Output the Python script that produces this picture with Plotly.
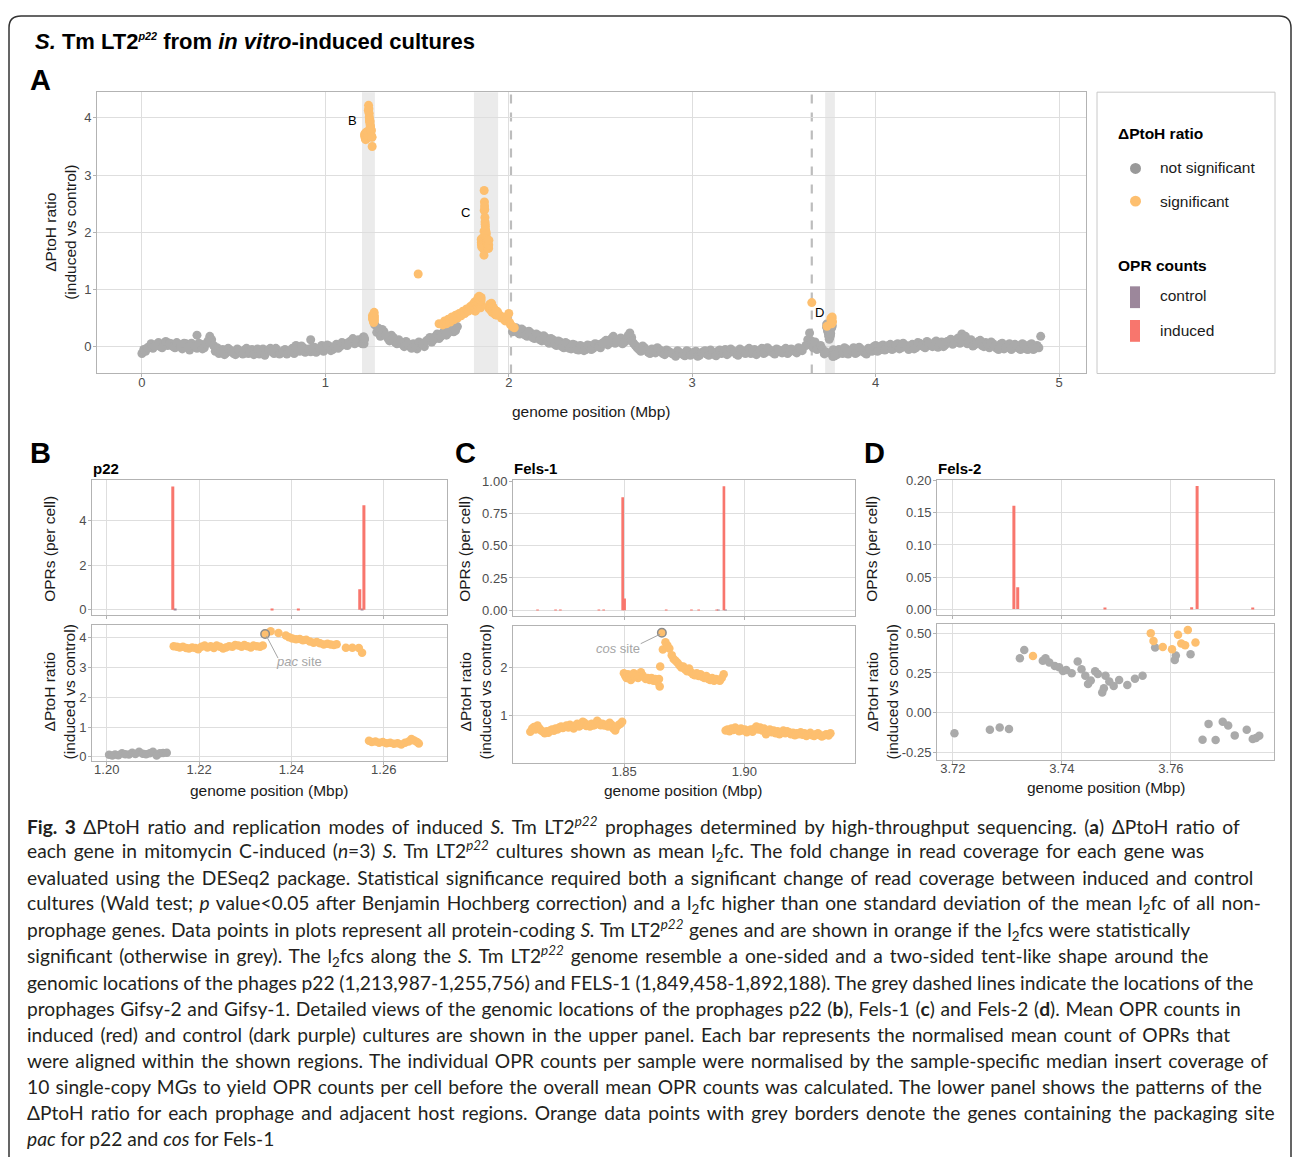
import plotly.graph_objects as go

W, H = 1293, 1161
def fx(p): return p / W
def fy(p): return 1 - p / H

GREY = '#aaaaaa'
ORANGE = '#fdbf6f'
INDUCED = '#f8766d'
CONTROL = '#9c879b'
FONT = 'Liberation Sans, Arial, sans-serif'
CAPFONT = 'Lato, sans-serif'

# ---------------- Panel A data (genome-wide, Mbp) ----------------
A_grey1_x = [0.00,0.01,0.02,0.04,0.06,0.08,0.10,0.12,0.14,0.16,0.18,0.20,0.22,0.24,0.26,0.28,0.30,0.30,0.32,0.34,0.36,0.37,0.38,0.40,0.42,0.44,0.46,0.48,0.50,0.52,0.54,0.56,0.58,0.60,0.62,0.64,0.66,0.68,0.70,0.72,0.74,0.76,0.78,0.80,0.82,0.84,0.86,0.88,0.90,0.92,0.92,0.94,0.96,0.98,1.00,1.02,1.04,1.06,1.08,1.10,1.12,1.14,1.16,1.18,1.19]
A_grey1_y = [-0.12,-0.05,-0.08,0.00,-0.03,0.04,0.00,0.06,0.02,0.05,-0.02,0.04,-0.04,0.05,-0.06,0.02,0.20,-0.03,0.04,-0.02,0.10,0.18,0.12,-0.08,-0.12,-0.05,-0.11,-0.06,-0.12,-0.04,-0.10,-0.06,-0.12,-0.05,-0.08,-0.13,-0.04,-0.09,-0.03,-0.12,-0.07,-0.11,-0.05,-0.10,-0.03,0.02,-0.08,-0.02,-0.06,0.12,-0.09,-0.01,-0.07,0.02,-0.04,0.01,-0.05,0.04,0.00,0.06,0.02,0.10,0.05,0.12,0.08]
A_grey1b_x = [0.03,0.05,0.07,0.09,0.11,0.13,0.15,0.17,0.19,0.21,0.23,0.25,0.27,0.29,0.31,0.33,0.35,0.37,0.39,0.41,0.43,0.45,0.47,0.49,0.51,0.53,0.55,0.57,0.59,0.61,0.63,0.65,0.67,0.69,0.71,0.73,0.75,0.77,0.79,0.81,0.83,0.85,0.87,0.89,0.91,0.93,0.95,0.97,0.99,1.01,1.03,1.05,1.07,1.09,1.11,1.13,1.15,1.17]
A_grey1b_y = [-0.02,0.05,0.01,0.07,-0.02,0.09,0.06,0.00,0.07,0.00,0.06,-0.01,0.06,0.00,0.06,-0.04,0.05,0.08,0.02,-0.02,-0.09,-0.14,-0.03,-0.09,-0.14,-0.07,-0.13,-0.03,-0.09,-0.14,-0.04,-0.10,-0.15,-0.06,-0.09,-0.03,-0.13,-0.08,-0.13,-0.07,-0.12,-0.05,0.01,-0.10,-0.04,-0.02,-0.10,-0.03,-0.08,0.03,-0.07,0.00,-0.03,0.07,0.03,0.08,0.14,0.07]
A_grey2_x = [1.27,1.28,1.29,1.30,1.32,1.34,1.36,1.38,1.40,1.42,1.44,1.46,1.48,1.50,1.52,1.54,1.56,1.58,1.60,1.62,1.64,1.66,1.68,1.70,1.72]
A_grey2_y = [0.38,0.25,0.32,0.18,0.26,0.15,0.20,0.08,0.12,0.04,0.09,0.00,0.05,-0.04,0.06,0.00,0.12,0.08,0.18,0.14,0.24,0.20,0.30,0.26,0.35]
A_grey2b_x = [1.31,1.33,1.35,1.37,1.39,1.41,1.43,1.45,1.47,1.49,1.51,1.53,1.55,1.57,1.59,1.61,1.63,1.65,1.67,1.69,1.71]
A_grey2b_y = [0.30,0.20,0.10,0.16,0.05,0.08,0.00,0.05,-0.03,0.02,0.08,0.04,0.10,0.16,0.12,0.22,0.18,0.28,0.24,0.32,0.28]
A_grey3_x = [2.02,2.04,2.06,2.08,2.10,2.12,2.14,2.16,2.18,2.20,2.22,2.24,2.26,2.28,2.30,2.32,2.34,2.36,2.38,2.40,2.42,2.44,2.46,2.48,2.50,2.52,2.54,2.56,2.58,2.60,2.62,2.64,2.66,2.67,2.68,2.70,2.72,2.74,2.76,2.78,2.80,2.82,2.84,2.86,2.88,2.90,2.92,2.94,2.96,2.98,3.00,3.02,3.04,3.06,3.08,3.10,3.12,3.14,3.16,3.18,3.20,3.22,3.24,3.26,3.28,3.30,3.32,3.34,3.36,3.38,3.40,3.42,3.44,3.46,3.48,3.50,3.52,3.54,3.56,3.58,3.60,3.62,3.63,3.64,3.65,3.66,3.67,3.68,3.70,3.71]
A_grey3_y = [0.26,0.33,0.22,0.28,0.18,0.24,0.14,0.20,0.10,0.16,0.06,0.12,0.02,0.08,-0.02,0.05,-0.04,0.03,-0.06,0.00,-0.05,0.02,-0.03,0.04,-0.02,0.08,0.03,0.14,0.06,0.12,0.05,0.10,0.24,0.16,0.06,-0.02,-0.08,-0.02,-0.10,-0.04,-0.11,-0.05,-0.12,-0.06,-0.10,-0.14,-0.07,-0.12,-0.16,-0.09,-0.13,-0.08,-0.15,-0.09,-0.13,-0.06,-0.14,-0.08,-0.12,-0.05,-0.11,-0.07,-0.13,-0.04,-0.10,-0.06,-0.12,-0.05,-0.09,-0.03,-0.10,-0.05,-0.11,-0.04,-0.09,-0.06,-0.12,-0.04,-0.08,-0.02,-0.07,0.02,0.12,0.24,0.10,-0.02,0.08,-0.05,0.02,-0.04]
A_grey3b_x = [2.03,2.05,2.07,2.09,2.11,2.13,2.15,2.17,2.19,2.21,2.23,2.25,2.27,2.29,2.31,2.33,2.35,2.37,2.39,2.41,2.43,2.45,2.47,2.49,2.51,2.53,2.55,2.57,2.59,2.61,2.63,2.65,2.67,2.69,2.71,2.73,2.75,2.77,2.79,2.81,2.83,2.85,2.87,2.89,2.91,2.93,2.95,2.97,2.99,3.01,3.03,3.05,3.07,3.09,3.11,3.13,3.15,3.17,3.19,3.21,3.23,3.25,3.27,3.29,3.31,3.33,3.35,3.37,3.39,3.41,3.43,3.45,3.47,3.49,3.51,3.53,3.55,3.57,3.59]
A_grey3b_y = [0.30,0.24,0.31,0.20,0.27,0.16,0.22,0.12,0.19,0.09,0.14,0.04,0.10,0.00,0.07,-0.03,0.04,-0.05,0.02,-0.07,0.03,-0.05,0.05,0.00,0.06,0.11,0.08,0.18,0.09,0.15,0.08,0.19,0.10,0.02,-0.05,0.01,-0.06,-0.12,-0.07,-0.02,-0.08,-0.14,-0.08,-0.12,-0.17,-0.10,-0.14,-0.07,-0.15,-0.10,-0.17,-0.11,-0.07,-0.15,-0.10,-0.16,-0.06,-0.10,-0.14,-0.04,-0.09,-0.15,-0.07,-0.12,-0.03,-0.09,-0.14,-0.07,-0.12,-0.02,-0.08,-0.13,-0.06,-0.11,-0.03,-0.09,-0.06,-0.11,-0.04]
A_grey4_x = [3.78,3.79,3.80,3.82,3.84,3.86,3.88,3.90,3.92,3.94,3.96,3.98,4.00,4.02,4.04,4.06,4.08,4.10,4.12,4.14,4.16,4.18,4.20,4.22,4.24,4.26,4.28,4.30,4.32,4.34,4.36,4.38,4.40,4.42,4.44,4.46,4.47,4.48,4.50,4.52,4.54,4.56,4.58,4.60,4.62,4.64,4.66,4.68,4.70,4.72,4.74,4.76,4.78,4.80,4.82,4.84,4.86,4.88,4.90,4.89]
A_grey4_y = [-0.10,-0.14,-0.05,-0.12,-0.04,-0.09,-0.02,-0.10,-0.04,-0.11,-0.03,-0.08,0.02,-0.06,0.03,-0.04,0.04,-0.03,0.05,-0.02,0.03,-0.05,0.04,-0.02,0.06,0.00,0.09,0.02,0.07,-0.01,0.08,0.03,0.10,0.04,0.12,0.06,0.22,0.14,0.05,0.12,0.03,0.09,0.02,0.07,-0.02,0.05,-0.03,0.04,-0.04,0.03,-0.05,0.04,-0.03,0.05,-0.04,0.03,-0.05,0.02,0.18,-0.02]
A_grey4b_x = [3.81,3.83,3.85,3.87,3.89,3.91,3.93,3.95,3.97,3.99,4.01,4.03,4.05,4.07,4.09,4.11,4.13,4.15,4.17,4.19,4.21,4.23,4.25,4.27,4.29,4.31,4.33,4.35,4.37,4.39,4.41,4.43,4.45,4.47,4.49,4.51,4.53,4.55,4.57,4.59,4.61,4.63,4.65,4.67,4.69,4.71,4.73,4.75,4.77,4.79,4.81,4.83,4.85,4.87]
A_grey4b_y = [-0.08,-0.02,-0.13,-0.06,-0.12,-0.01,-0.08,-0.13,-0.05,0.00,-0.08,0.01,-0.06,0.02,-0.05,0.03,-0.04,0.06,-0.01,0.02,-0.04,0.07,0.02,-0.02,0.05,0.00,0.10,0.04,0.00,0.09,0.13,0.07,0.15,0.10,0.18,0.08,0.01,0.06,0.11,0.00,0.05,0.08,0.01,-0.05,0.06,-0.02,0.05,-0.02,0.02,-0.05,0.03,-0.05,0.05,-0.03]
A_orange_x = [1.506,1.620,1.640,1.650,1.660,1.670,1.680,1.690,1.700,1.710,1.720,1.730,1.740,1.750,1.760,1.770,1.780,1.790,1.800,1.805,1.940,1.950,1.960,1.970,1.980,1.990,2.000,2.005,2.010,2.020,2.030,3.652]
A_orange_y = [1.27,0.40,0.38,0.45,0.40,0.48,0.43,0.52,0.47,0.55,0.50,0.58,0.54,0.62,0.58,0.66,0.62,0.70,0.66,0.74,0.60,0.55,0.50,0.52,0.45,0.48,0.58,0.42,0.38,0.35,0.33,0.77]
A_prophage_regions = [(1.200, 1.270), (1.810, 1.942), (3.725, 3.778)]
A_dashed = [2.012, 3.652]

# ---------------- Panel B (p22) ----------------
B_grey_x = [1.2005,1.2012,1.2018,1.2025,1.2033,1.2040,1.2048,1.2055,1.2062,1.2070,1.2078,1.2085,1.2093,1.2100,1.2108,1.2115,1.2122,1.2130]
B_grey_y = [0.07,0.05,0.08,0.06,0.12,0.09,0.08,0.14,0.10,0.17,0.11,0.09,0.12,0.17,0.05,0.12,0.13,0.14]
B_orange_x = [1.2145,1.2152,1.2158,1.2165,1.2172,1.2178,1.2185,1.2192,1.2198,1.2205,1.2212,1.2218,1.2225,1.2232,1.2238,1.2245,1.2252,1.2258,1.2265,1.2272,1.2278,1.2285,1.2292,1.2298,1.2305,1.2312,1.2318,1.2325,1.2332,1.2338,
              1.2355,1.2372,1.2388,1.2395,1.2402,1.2410,1.2418,1.2425,1.2432,1.2440,1.2448,1.2455,1.2462,1.2470,1.2478,1.2485,1.2492,1.2498,1.2518,1.2532,1.2546,1.2553,
              1.2568,1.2574,1.2582,1.2590,1.2598,1.2606,1.2614,1.2622,1.2630,1.2638,1.2646,1.2654,1.2660,1.2666,1.2672,1.2676]
B_orange_y = [3.72,3.70,3.68,3.70,3.66,3.64,3.68,3.66,3.62,3.70,3.74,3.68,3.72,3.66,3.74,3.70,3.64,3.68,3.72,3.70,3.76,3.74,3.70,3.76,3.72,3.68,3.74,3.72,3.70,3.74,
              4.22,4.16,4.08,4.02,3.98,3.95,3.96,3.92,3.94,3.88,3.84,3.86,3.82,3.78,3.80,3.78,3.76,3.79,3.67,3.67,3.66,3.50,
              0.54,0.50,0.52,0.48,0.50,0.46,0.48,0.44,0.46,0.42,0.48,0.52,0.60,0.55,0.50,0.45]
B_pac_x = [1.2343]
B_pac_y = [4.13]
B_induced_x = [1.2143, 1.2358, 1.2415, 1.2548, 1.2557]
B_induced_y = [5.55, 0.03, 0.03, 0.92, 4.70]
B_control_x = [1.2148, 1.2553]
B_control_y = [0.05, 0.04]

# ---------------- Panel C (Fels-1) ----------------
C_orange_x = [1.8110,1.8118,1.8125,1.8132,1.8140,1.8148,1.8155,1.8163,1.8170,1.8178,1.8185,1.8193,1.8200,1.8208,1.8215,1.8223,1.8230,1.8238,1.8245,1.8253,1.8260,1.8268,1.8275,1.8283,1.8290,1.8298,1.8305,1.8313,1.8320,1.8328,1.8335,1.8343,1.8350,1.8358,1.8365,1.8373,1.8380,1.8388,1.8395,1.8403,1.8410,1.8418,1.8425,1.8433,1.8440,1.8448,1.8455,1.8463,1.8470,1.8478,1.8485,1.8492,
              1.8499,1.8505,1.8510,1.8516,1.8522,1.8528,1.8534,1.8540,1.8546,1.8552,1.8558,1.8564,1.8570,1.8576,1.8582,1.8590,1.8598,1.8606,1.8614,1.8622,1.8630,1.8638,1.8645,1.8648,1.8650,
              1.8661,1.8672,1.8680,1.8688,1.8698,1.8706,1.8714,1.8722,1.8730,1.8738,1.8746,1.8754,1.8762,1.8770,1.8778,1.8786,1.8794,1.8802,1.8810,1.8818,1.8826,1.8834,1.8842,1.8850,1.8858,1.8866,1.8874,1.8882,1.8890,1.8898,1.8906,1.8914,
              1.8922,1.8930,1.8938,1.8946,1.8954,1.8962,1.8970,1.8978,1.8986,1.8994,1.9002,1.9010,1.9018,1.9026,1.9034,1.9042,1.9050,1.9058,1.9066,1.9074,1.9082,1.9090,1.9098,1.9106,1.9114,1.9122,1.9130,1.9138,1.9146,1.9154,1.9162,1.9170,1.9178,1.9186,1.9194,1.9202,1.9210,1.9218,1.9226,1.9234,1.9242,1.9250,1.9258,1.9266,1.9274,1.9282,1.9290,1.9298,1.9306,1.9314,1.9322,1.9330,1.9340,1.9350,1.9358]
C_orange_y = [0.65,0.72,0.75,0.70,0.78,0.72,0.68,0.65,0.62,0.66,0.63,0.68,0.70,0.67,0.72,0.70,0.74,0.76,0.73,0.75,0.78,0.74,0.80,0.76,0.72,0.78,0.82,0.76,0.79,0.86,0.84,0.77,0.80,0.76,0.82,0.78,0.80,0.88,0.84,0.79,0.82,0.78,0.80,0.76,0.84,0.80,0.72,0.68,0.76,0.80,0.82,0.86,
              1.88,1.82,1.78,1.86,1.80,1.74,1.84,1.88,1.80,1.85,1.78,1.82,1.90,1.84,1.80,1.76,1.78,1.74,1.78,1.72,1.76,1.70,1.76,1.60,2.02,
              2.38,2.53,2.46,2.40,2.26,2.18,2.14,2.10,2.05,2.00,2.02,1.96,1.92,1.98,1.90,1.86,1.84,1.88,1.82,1.86,1.80,1.78,1.82,1.76,1.74,1.78,1.72,1.76,1.74,1.72,1.78,1.86,
              0.68,0.70,0.66,0.72,0.69,0.74,0.70,0.66,0.72,0.68,0.70,0.64,0.67,0.70,0.65,0.72,0.76,0.70,0.74,0.68,0.72,0.60,0.66,0.70,0.64,0.68,0.62,0.66,0.60,0.64,0.68,0.62,0.66,0.64,0.60,0.63,0.58,0.62,0.60,0.64,0.59,0.62,0.56,0.60,0.63,0.58,0.56,0.60,0.62,0.58,0.55,0.57,0.60,0.57,0.62]
C_cos_x = [1.8657]
C_cos_y = [2.73]
C_induced_x = [1.8140,1.8215,1.8235,1.8395,1.8415,1.8494,1.8502,1.8675,1.8780,1.8810,1.8885,1.8915]
C_induced_y = [0.003,0.004,0.003,0.003,0.003,0.875,0.090,0.003,0.003,0.003,0.004,0.960]
C_control_x = [1.8892, 1.8922]
C_control_y = [0.004, 0.004]

# ---------------- Panel D (Fels-2) ----------------
D_grey_x = [3.7203,3.7268,3.7286,3.7303,3.7323,3.7331,3.7365,3.7370,3.7377,3.7387,3.7395,3.7402,3.7408,3.7418,3.7429,3.7436,3.7443,3.7448,3.7453,3.7461,3.7466,3.7474,3.7477,3.7480,3.7487,3.7495,3.7505,3.7520,3.7534,3.7548,3.7571,3.7607,3.7609,3.7636,3.7658,3.7669,3.7682,3.7695,3.7705,3.7717,3.7739,3.7750,3.7756,3.7762]
D_grey_y = [-0.127,-0.106,-0.092,-0.101,0.342,0.394,0.327,0.342,0.315,0.294,0.285,0.262,0.269,0.248,0.321,0.273,0.232,0.181,0.202,0.260,0.244,0.127,0.154,0.232,0.196,0.169,0.206,0.175,0.213,0.233,0.410,0.331,0.360,0.367,-0.169,-0.069,-0.170,-0.055,-0.079,-0.141,-0.106,-0.164,-0.158,-0.143]
D_orange_x = [3.7347,3.7563,3.7568,3.7585,3.7602,3.7613,3.7619,3.7626,3.7631,3.7645]
D_orange_y = [0.356,0.498,0.450,0.412,0.398,0.490,0.435,0.423,0.519,0.440]
D_induced_x = [3.7312,3.7319,3.7479,3.7638,3.7648,3.7750]
D_induced_y = [0.161,0.034,0.0015,0.003,0.192,0.0015]

for a, b in [(A_grey1_x, A_grey1_y), (A_grey1b_x, A_grey1b_y), (A_grey2_x, A_grey2_y), (A_grey2b_x, A_grey2b_y),
             (A_grey3_x, A_grey3_y), (A_grey3b_x, A_grey3b_y), (A_grey4_x, A_grey4_y), (A_grey4b_x, A_grey4b_y),
             (A_orange_x, A_orange_y), (B_grey_x, B_grey_y), (B_orange_x, B_orange_y), (C_orange_x, C_orange_y),
             (D_grey_x, D_grey_y), (D_orange_x, D_orange_y)]:
    assert len(a) == len(b), (len(a), len(b))

# ---------------- Figure ----------------
fig = go.Figure()

def pts(x, y, xa, ya, color, size=8.5, line=None):
    mk = dict(color=color, size=size, line=dict(width=0))
    if line:
        mk['line'] = dict(color=line, width=1.5)
    fig.add_trace(go.Scatter(x=x, y=y, mode='markers', marker=mk, xaxis=xa, yaxis=ya,
                             showlegend=False, hoverinfo='skip'))

def bars(x, y, xa, ya, color, width):
    fig.add_trace(go.Bar(x=x, y=y, width=width, marker=dict(color=color, line=dict(width=0)),
                         xaxis=xa, yaxis=ya, showlegend=False, hoverinfo='skip'))

# A
A_gx = A_grey1_x + A_grey1b_x + A_grey2_x + A_grey2b_x + A_grey3_x + A_grey3b_x + A_grey4_x + A_grey4b_x + B_grey_x + D_grey_x
A_gy = A_grey1_y + A_grey1b_y + A_grey2_y + A_grey2b_y + A_grey3_y + A_grey3b_y + A_grey4_y + A_grey4b_y + B_grey_y + D_grey_y
pts(A_gx, A_gy, 'x', 'y', GREY, 9)
A_ox = A_orange_x + B_orange_x + B_pac_x + C_orange_x + C_cos_x + D_orange_x
A_oy = A_orange_y + B_orange_y + B_pac_y + C_orange_y + C_cos_y + D_orange_y
pts(A_ox, A_oy, 'x', 'y', ORANGE, 9)

# B
bars(B_control_x, B_control_y, 'x2', 'y2', CONTROL, 0.00065)
bars(B_induced_x, B_induced_y, 'x2', 'y2', INDUCED, 0.00065)
pts(B_grey_x, B_grey_y, 'x3', 'y3', GREY, 8.5)
pts(B_orange_x, B_orange_y, 'x3', 'y3', ORANGE, 8.5)
pts(B_pac_x, B_pac_y, 'x3', 'y3', ORANGE, 8.5, line='#8c8c8c')

# C
bars(C_control_x, C_control_y, 'x4', 'y4', CONTROL, 0.0011)
bars(C_induced_x, C_induced_y, 'x4', 'y4', INDUCED, 0.0011)
pts(C_orange_x, C_orange_y, 'x5', 'y5', ORANGE, 8.5)
pts(C_cos_x, C_cos_y, 'x5', 'y5', ORANGE, 8.5, line='#8c8c8c')

# D
bars(D_induced_x, D_induced_y, 'x6', 'y6', INDUCED, 0.00055)
pts(D_grey_x, D_grey_y, 'x7', 'y7', GREY, 8.5)
pts(D_orange_x, D_orange_y, 'x7', 'y7', ORANGE, 8.5)

def axis(xd, rng, anchor, vals, texts, labels=True, standoff=0):
    return dict(domain=xd, range=rng, anchor=anchor, autorange=False,
                showgrid=True, gridcolor='#dedede', gridwidth=1, zeroline=False,
                showline=True, linecolor='#b3b3b3', linewidth=1, mirror=True,
                ticks='outside', ticklen=3, tickwidth=1, tickcolor='#b3b3b3',
                tickmode='array', tickvals=vals, ticktext=texts, showticklabels=labels,
                ticklabelstandoff=standoff,
                tickfont=dict(family=FONT, size=13, color='#4d4d4d'), fixedrange=True)

def dx(a, b): return [fx(a), fx(b)]
def dy(top, bot): return [fy(bot), fy(top)]

XS, YS = -6, -1
B_xr = [1.1968, 1.2737]
C_xr = [1.8038, 1.9460]
D_xr = [3.7171, 3.7789]
B_xt = ([1.20, 1.22, 1.24, 1.26], ['1.20', '1.22', '1.24', '1.26'])
C_xt = ([1.85, 1.90], ['1.85', '1.90'])
D_xt = ([3.72, 3.74, 3.76], ['3.72', '3.74', '3.76'])

fig.update_layout(
    width=W, height=H, margin=dict(l=0, r=0, t=0, b=0),
    paper_bgcolor='white', plot_bgcolor='white', barmode='overlay', showlegend=False,
    xaxis=axis(dx(97, 1086), [-0.245, 5.147], 'y', [0, 1, 2, 3, 4, 5], ['0', '1', '2', '3', '4', '5'], standoff=XS),
    yaxis=axis(dy(86, 370), [-0.47, 4.45], 'x', [0, 1, 2, 3, 4], ['0', '1', '2', '3', '4'], standoff=YS),
    xaxis2=axis(dx(92, 447), B_xr, 'y2', B_xt[0], B_xt[1], False),
    yaxis2=axis(dy(478, 614), [-0.25, 5.82], 'x2', [0, 2, 4], ['0', '2', '4'], standoff=YS),
    xaxis3=axis(dx(92, 447), B_xr, 'y3', B_xt[0], B_xt[1], standoff=XS),
    yaxis3=axis(dy(624, 761), [-0.13, 4.43], 'x3', [0, 1, 2, 3, 4], ['0', '1', '2', '3', '4'], standoff=YS),
    xaxis4=axis(dx(513, 855), C_xr, 'y4', C_xt[0], C_xt[1], False),
    yaxis4=axis(dy(478, 615), [-0.046, 1.005], 'x4', [0, 0.25, 0.5, 0.75, 1.0], ['0.00', '0.25', '0.50', '0.75', '1.00'], standoff=YS),
    xaxis5=axis(dx(513, 855), C_xr, 'y5', C_xt[0], C_xt[1], standoff=XS),
    yaxis5=axis(dy(625, 763), [0.0, 2.87], 'x5', [1, 2], ['1', '2'], standoff=YS),
    xaxis6=axis(dx(937, 1274), D_xr, 'y6', D_xt[0], D_xt[1], False),
    yaxis6=axis(dy(478, 614), [-0.0095, 0.2005], 'x6', [0, 0.05, 0.10, 0.15, 0.20], ['0.00', '0.05', '0.10', '0.15', '0.20'], standoff=YS),
    xaxis7=axis(dx(937, 1274), D_xr, 'y7', D_xt[0], D_xt[1], standoff=XS),
    yaxis7=axis(dy(623, 760), [-0.294, 0.556], 'x7', [-0.25, 0, 0.25, 0.5], ['-0.25', '0.00', '0.25', '0.50'], standoff=YS),
)

shapes = []
for x0, x1 in A_prophage_regions:
    shapes.append(dict(type='rect', xref='x', yref='y domain', x0=x0, x1=x1, y0=0, y1=1,
                       fillcolor='#ebebeb', line=dict(width=0), layer='below'))
for xv in A_dashed:
    shapes.append(dict(type='line', xref='x', yref='y domain', x0=xv, x1=xv, y0=0, y1=1,
                       line=dict(color='#bdbdbd', width=2.2, dash='dash'), layer='below'))
# pac / cos connectors
shapes.append(dict(type='line', xref='x3', yref='y3', x0=1.2346, y0=4.06, x1=1.2371, y1=3.32,
                   line=dict(color='#a6a6a6', width=1)))
shapes.append(dict(type='line', xref='x5', yref='y5', x0=1.8569, y0=2.50, x1=1.8650, y1=2.70,
                   line=dict(color='#a6a6a6', width=1)))

# legend box
shapes.append(dict(type='rect', xref='paper', yref='paper', x0=fx(1097), x1=fx(1275), y0=fy(370), y1=fy(86),
                   line=dict(color='#c8c8c8', width=1), fillcolor='rgba(0,0,0,0)'))
for cy, col in [(163, '#999999'), (196, ORANGE)]:
    shapes.append(dict(type='circle', xref='paper', yref='paper', x0=fx(1130), x1=fx(1141), y0=fy(cy + 5.5), y1=fy(cy - 5.5),
                       line=dict(width=0), fillcolor=col))
shapes.append(dict(type='rect', xref='paper', yref='paper', x0=fx(1130), x1=fx(1140), y0=fy(304), y1=fy(282),
                   line=dict(width=0), fillcolor=CONTROL))
shapes.append(dict(type='rect', xref='paper', yref='paper', x0=fx(1130), x1=fx(1140), y0=fy(338), y1=fy(316),
                   line=dict(width=0), fillcolor=INDUCED))

# outer frame
r = 12
path = (f'M {fx(9)},{fy(1161)} L {fx(9)},{fy(9 + r)} Q {fx(9)},{fy(9)} {fx(9 + r)},{fy(9)} '
        f'L {fx(1291 - r)},{fy(9)} Q {fx(1291)},{fy(9)} {fx(1291)},{fy(9 + r)} L {fx(1291)},{fy(1161)}')
shapes.append(dict(type='path', xref='paper', yref='paper', path=path, line=dict(color='#333333', width=1.5)))
fig.update_layout(shapes=shapes)

ann = []
def txt(x, y, s, size=14, color='#1a1a1a', xanchor='center', yanchor='middle', angle=0, family=FONT, xref='paper', yref='paper'):
    if xref == 'paper':
        x = fx(x)
    if yref == 'paper':
        y = fy(y)
    ann.append(dict(x=x, y=y, xref=xref, yref=yref, text=s, showarrow=False, xanchor=xanchor, yanchor=yanchor,
                    textangle=angle, font=dict(family=family, size=size, color=color)))

SUP = "<sup><span style='font-size:70%'><i>p22</i></span></sup>"
# title and panel letters
txt(33, 35, f'<b><i>S.</i> Tm LT2{SUP} from <i>in vitro</i>-induced cultures</b>', size=22, color='black', xanchor='left')
txt(28, 74, '<b>A</b>', size=29, color='black', xanchor='left')
txt(28, 450, '<b>B</b>', size=29, color='black', xanchor='left')
txt(453, 450, '<b>C</b>', size=29, color='black', xanchor='left')
txt(862, 450, '<b>D</b>', size=29, color='black', xanchor='left')
txt(91, 466, '<b>p22</b>', size=15, color='black', xanchor='left')
txt(512, 466, '<b>Fels-1</b>', size=15, color='black', xanchor='left')
txt(936, 466, '<b>Fels-2</b>', size=15, color='black', xanchor='left')

# axis titles
AT = 15.5
txt(61, 228, 'ΔPtoH ratio<br>(induced vs control)', size=AT, angle=-90)
txt(591, 408, 'genome position (Mbp)', size=AT)
txt(50, 547, 'OPRs (per cell)', size=AT, angle=-90)
txt(59, 692, 'ΔPtoH ratio<br>(induced vs control)', size=AT, angle=-90)
txt(269, 791, 'genome position (Mbp)', size=AT)
txt(465, 547, 'OPRs (per cell)', size=AT, angle=-90)
txt(475, 692, 'ΔPtoH ratio<br>(induced vs control)', size=AT, angle=-90)
txt(683, 791, 'genome position (Mbp)', size=AT)
txt(872, 547, 'OPRs (per cell)', size=AT, angle=-90)
txt(882, 692, 'ΔPtoH ratio<br>(induced vs control)', size=AT, angle=-90)
txt(1106, 788, 'genome position (Mbp)', size=AT)

# A labels
txt(1.15, 3.95, 'B', size=13, color='black', xref='x', yref='y')
txt(1.765, 2.34, 'C', size=13, color='black', xref='x', yref='y')
txt(3.695, 0.60, 'D', size=13, color='black', xref='x', yref='y')

# pac / cos labels
txt(1.2416, 3.20, '<i>pac</i> site', size=13, color='#a6a6a6', xref='x3', yref='y3')
txt(1.8474, 2.40, '<i>cos</i> site', size=13, color='#a6a6a6', xref='x5', yref='y5')

# legend text
txt(1116, 128, '<b>ΔPtoH ratio</b>', size=15.5, color='black', xanchor='left')
txt(1158, 162, 'not significant', size=15.5, xanchor='left')
txt(1158, 196, 'significant', size=15.5, xanchor='left')
txt(1116, 261, '<b>OPR counts</b>', size=15.5, color='black', xanchor='left')
txt(1158, 291, 'control', size=15.5, xanchor='left')
txt(1158, 327, 'induced', size=15.5, xanchor='left')

# caption (line text, extra word spacing in px so line widths follow the original setting)
CSUP = '<sup><i>p22</i></sup>'
caption = [
    f'<b>Fig. 3</b> ΔPtoH ratio and replication modes of induced <i>S.</i> Tm LT2{CSUP} prophages determined by high-throughput sequencing. (<b>a</b>) ΔPtoH ratio of',
    f'each gene in mitomycin C-induced (<i>n</i>=3) <i>S.</i> Tm LT2{CSUP} cultures shown as mean l<sub>2</sub>fc. The fold change in read coverage for each gene was',
    'evaluated using the DESeq2 package. Statistical significance required both a significant change of read coverage between induced and control',
    'cultures (Wald test; <i>p</i> value&lt;0.05 after Benjamin Hochberg correction) and a l<sub>2</sub>fc higher than one standard deviation of the mean l<sub>2</sub>fc of all non-',
    f'prophage genes. Data points in plots represent all protein-coding <i>S.</i> Tm LT2{CSUP} genes and are shown in orange if the l<sub>2</sub>fcs were statistically',
    f'significant (otherwise in grey). The l<sub>2</sub>fcs along the <i>S.</i> Tm LT2{CSUP} genome resemble a one-sided and a two-sided tent-like shape around the',
    'genomic locations of the phages p22 (1,213,987-1,255,756) and FELS-1 (1,849,458-1,892,188). The grey dashed lines indicate the locations of the',
    'prophages Gifsy-2 and Gifsy-1. Detailed views of the genomic locations of the prophages p22 (<b>b</b>), Fels-1 (<b>c</b>) and Fels-2 (<b>d</b>). Mean OPR counts in',
    'induced (red) and control (dark purple) cultures are shown in the upper panel. Each bar represents the normalised mean count of OPRs that',
    'were aligned within the shown regions. The individual OPR counts per sample were normalised by the sample-specific median insert coverage of',
    '10 single-copy MGs to yield OPR counts per cell before the overall mean OPR counts was calculated. The lower panel shows the patterns of the',
    'ΔPtoH ratio for each prophage and adjacent host regions. Orange data points with grey borders denote the genes containing the packaging site',
    '<i>pac</i> for p22 and <i>cos</i> for Fels-1',
]
caption_wordspacing = [2.6, 2.26, 2.2, 1.65, 0.64, 2.05, -0.17, 0.74, 1.9, 1.65, 1.3, 2.33, 0.0]
for i, line in enumerate(caption):
    s = f"<span style='word-spacing:{caption_wordspacing[i]:.2f}px'>{line}</span>"
    txt(25, 826 + i * 26.4, s, size=19.2, color='#231f20', xanchor='left', family=CAPFONT)

fig.update_layout(annotations=ann)
fig.write_html('out.html', config={'displayModeBar': False},
               post_script="document.body.style.margin='0';document.body.style.padding='0';")
